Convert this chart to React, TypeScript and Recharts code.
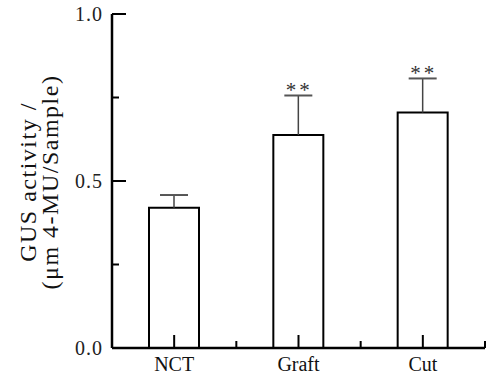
import { Bar, BarChart, LabelList, XAxis, YAxis } from 'recharts'

const categories = ['NCT', 'Graft', 'Cut']
const means = [0.42, 0.638, 0.705]
const errors = [0.038, 0.118, 0.102]
const marks = ['', '**', '**']
const yTicks = [0, 0.25, 0.5, 0.75, 1]
const yLabels = [0, 0.5, 1]

const data = categories.map((name, i) => ({ name, mean: means[i], err: errors[i], mark: marks[i] }))

const W = 495
const H = 375
const M = { top: 14, right: 10, bottom: 0, left: 72 }
const Y_W = 40
const X_H = 27
const PLOT_W = W - M.left - Y_W - M.right
const BAND = PLOT_W / categories.length
const FONT = '"Liberation Serif", "DejaVu Serif", serif'

const YTick = (props: any) => {
  const { x, y, payload } = props
  const axisX = x + 14
  const major = yLabels.includes(payload.value)
  return (
    <g>
      <line x1={axisX} x2={axisX + (major ? 14 : 7)} y1={y} y2={y} stroke="#000" strokeWidth={2} />
      {major && (
        <text x={axisX - 9} y={y} dy={7} textAnchor="end" fontFamily={FONT} fontSize={20} fill="#222" letterSpacing={1}>
          {payload.value.toFixed(1)}
        </text>
      )}
    </g>
  )
}

const XTick = (props: any) => {
  const { x, y, payload } = props
  const axisY = y - 4
  return (
    <g>
      <line x1={x} x2={x} y1={axisY} y2={axisY - 13} stroke="#000" strokeWidth={2} />
      <line x1={x + BAND / 2} x2={x + BAND / 2} y1={axisY} y2={axisY - 7} stroke="#000" strokeWidth={2} />
      <text x={x} y={axisY} dy={23} textAnchor="middle" fontFamily={FONT} fontSize={20} fill="#111">
        {payload.value}
      </text>
    </g>
  )
}

const ErrLabel = (props: any) => {
  const { x, y, width, height, index } = props
  const d = data[index]
  const px = height / d.mean
  const cx = x + width / 2
  const top = y - d.err * px
  return (
    <g>
      <line x1={cx} x2={cx} y1={y} y2={top} stroke="#444" strokeWidth={1.5} />
      <line x1={cx - 14} x2={cx + 14} y1={top} y2={top} stroke="#555" strokeWidth={2} />
      {d.mark && (
        <text x={cx + 1} y={top + 2} textAnchor="middle" fontFamily={FONT} fontSize={21} fill="#333" letterSpacing={3}>
          {d.mark}
        </text>
      )}
    </g>
  )
}

export default function App() {
  return (
    <div style={{ position: 'absolute', left: 0, top: 0, width: W, height: H, background: '#fff' }}>
      <BarChart width={W} height={H} data={data} margin={M} barCategoryGap={0}>
        <XAxis
          dataKey="name"
          height={X_H}
          tickLine={false}
          tickSize={0}
          tickMargin={4}
          tick={<XTick />}
          axisLine={{ stroke: '#000', strokeWidth: 2.5 }}
        />
        <XAxis xAxisId="top" orientation="top" dataKey="name" height={0} tick={false} tickLine={false} axisLine={{ stroke: '#000', strokeWidth: 2.5 }} />
        <YAxis
          domain={[0, 1]}
          ticks={yTicks}
          width={Y_W}
          tickLine={false}
          tickSize={8}
          tickMargin={6}
          tick={<YTick />}
          axisLine={{ stroke: '#000', strokeWidth: 2.5 }}
          interval={0}
        />
        <YAxis yAxisId="right" orientation="right" domain={[0, 1]} width={0} tick={false} tickLine={false} axisLine={{ stroke: '#000', strokeWidth: 2.5 }} />
        <Bar dataKey="mean" fill="#fff" stroke="#000" strokeWidth={2} barSize={50} isAnimationActive={false}>
          <LabelList dataKey="mean" content={<ErrLabel />} />
        </Bar>
      </BarChart>
      <div
        style={{
          position: 'absolute',
          left: 39,
          top: 182,
          transform: 'translate(-50%, -50%) rotate(-90deg)',
          fontFamily: FONT,
          fontSize: 24,
          lineHeight: '22px',
          letterSpacing: 1.5,
          textAlign: 'center',
          whiteSpace: 'nowrap',
          color: '#111',
        }}
      >
        GUS activity /<br />(μm 4-MU/Sample)
      </div>
    </div>
  )
}
